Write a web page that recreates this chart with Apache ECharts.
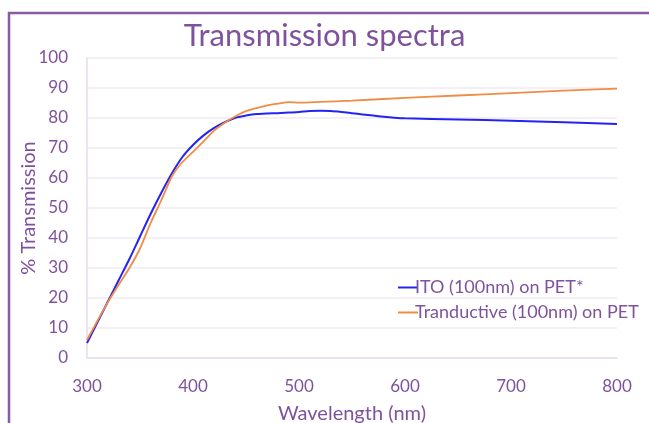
<!DOCTYPE html>
<html><head><meta charset="utf-8">
<script src="https://cdn.jsdelivr.net/npm/echarts@6/dist/echarts.min.js"></script>
<style>html,body{margin:0;padding:0;background:#fff;}#c{width:649px;height:423px;}</style>
</head><body><div id="c"></div>
<script>
const titleText = 'Transmission spectra';
const xName = 'Wavelength (nm)';
const yName = '% Transmission';
const seriesNames = ['ITO (100nm) on PET*', 'Tranductive (100nm) on PET'];

const itoWl  = [300,310,320,330,340,350,360,370,380,390,400,410,420,430,440,450,460,470,480,490,500,510,520,530,540,550,560,570,580,590,600,650,700,750,800];
const itoVal = [5,12,19,26,33,40.5,48,55,61.5,67,71,74.2,76.7,78.6,80.1,80.8,81.3,81.5,81.6,81.8,82,82.3,82.4,82.3,82.0,81.6,81.2,80.8,80.4,80.1,79.9,79.5,79.1,78.6,78];

const trdWl  = [300,310,320,330,340,350,360,370,380,388,400,410,420,430,440,450,460,470,480,490,500,550,600,650,700,750,800];
const trdVal = [6,12.5,18.8,24.5,30,36.5,45,52.5,60.5,64.5,68.7,72.2,75.8,78.4,80.6,82.3,83.3,84.2,84.8,85.3,85.1,85.8,86.7,87.5,88.3,89.1,89.8];

const purple = '#7E529D';
const chart = echarts.init(document.getElementById('c'));
chart.setOption({
  animation: false,
  backgroundColor: '#fff',
  title: { text: titleText, left: 'center', top: 15,
    textStyle: { fontFamily: 'Lato', fontWeight: 'normal', fontSize: 31, color: purple } },
  legend: {
    orient: 'vertical', left: 393, top: 273, itemWidth: 20, itemHeight: 2, icon: 'rect', itemGap: 6,
    textStyle: { fontFamily: 'Lato', fontSize: 18, color: purple, padding: [0,0,0,-8], lineHeight: 19 }
  },
  grid: { left: 87, right: 32, top: 58, bottom: 65, containLabel: false, outerBoundsMode: 'none' },
  xAxis: {
    type: 'value', min: 300, max: 800, interval: 100,
    name: xName, nameLocation: 'middle', nameGap: 46, nameMoveOverlap: false,
    nameTextStyle: { fontFamily: 'Lato', fontSize: 20, color: purple },
    axisLine: { show: true, lineStyle: { color: '#E6DCEC', width: 1.5 } },
    axisTick: { show: false },
    splitLine: { show: false },
    axisLabel: { fontFamily: 'Lato', fontSize: 17, color: purple, margin: 20 }
  },
  yAxis: {
    type: 'value', min: 0, max: 100, interval: 10,
    name: yName, nameLocation: 'middle', nameGap: 48, nameMoveOverlap: false,
    nameTextStyle: { fontFamily: 'Lato', fontSize: 20, color: purple },
    axisLine: { show: true, lineStyle: { color: '#E6DCEC', width: 1.5 } },
    axisTick: { show: false },
    splitLine: { show: true, lineStyle: { color: '#F1E9F5', width: 1.5 } },
    axisLabel: { fontFamily: 'Lato', fontSize: 17, color: purple, margin: 19 }
  },
  series: [
    { name: seriesNames[0], type: 'line', smooth: 0.3, showSymbol: false,
      data: itoWl.map((w, i) => [w, itoVal[i]]),
      lineStyle: { color: '#2424F0', width: 2 }, itemStyle: { color: '#2424F0' } },
    { name: seriesNames[1], type: 'line', smooth: 0.2, showSymbol: false,
      data: trdWl.map((w, i) => [w, trdVal[i]]),
      lineStyle: { color: '#F08C44', width: 1.8 }, itemStyle: { color: '#F08C44' } }
  ],
  graphic: [
    { type: 'polyline', shape: { points: [[9,423],[9,13],[649,13]] },
      style: { stroke: '#8B5AA5', lineWidth: 2.5, fill: null }, silent: true }
  ]
});
</script></body></html>
